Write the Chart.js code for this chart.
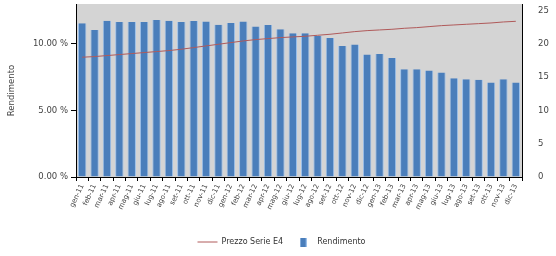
<!DOCTYPE html>
<html><head><meta charset="utf-8">
<script src="https://cdn.jsdelivr.net/npm/chart.js@4/dist/chart.umd.min.js"></script>
<style>html,body{margin:0;padding:0;background:#fff}#wrap{width:556px;height:256px}</style>
</head><body><div id="wrap"><canvas id="c" width="556" height="256"></canvas></div>
<script>
const categories = ["gen-11","feb-11","mar-11","apr-11","mag-11","giu-11","lug-11","ago-11","set-11","ott-11","nov-11","dic-11",
"gen-12","feb-12","mar-12","apr-12","mag-12","giu-12","lug-12","ago-12","set-12","ott-12","nov-12","dic-12",
"gen-13","feb-13","mar-13","apr-13","mag-13","giu-13","lug-13","ago-13","set-13","ott-13","nov-13","dic-13"];
const rendimento = [11.56,11.05,11.75,11.65,11.65,11.65,11.8,11.75,11.65,11.73,11.68,11.45,
11.58,11.68,11.3,11.42,11.1,10.8,10.8,10.6,10.45,9.85,9.95,9.2,
9.25,8.95,8.1,8.1,8.0,7.85,7.42,7.35,7.3,7.1,7.35,7.1];
const prezzo = [18.0,18.1,18.25,18.4,18.55,18.7,18.85,19.0,19.2,19.45,19.7,19.95,
20.2,20.45,20.65,20.8,20.95,21.05,21.15,21.3,21.45,21.65,21.85,22.0,
22.1,22.2,22.35,22.45,22.6,22.75,22.85,22.95,23.05,23.15,23.3,23.4];
const leftTicks = [0,5,10];
const rightTicks = [0,5,10,15,20,25];

const FONT = {family:"DejaVu Sans", size:8.5};
const bgPlugin = {id:'bg', beforeDraw(ch){const a=ch.chartArea,c=ch.ctx;c.save();c.fillStyle='#d4d4d4';c.fillRect(a.left,a.top,a.right-a.left,a.bottom-a.top);c.restore();}};

const boxImg = document.createElement('canvas');
boxImg.width = 7; boxImg.height = 9;
(function(){const g=boxImg.getContext('2d');g.fillStyle='#4a7ebb';g.fillRect(0,0,7,9);g.fillStyle='#9cc0ea';g.fillRect(0,0,1,9);g.fillRect(6,0,1,9);})();

function noVPad(s){s.paddingTop=0;s.paddingBottom=0;}

new Chart(document.getElementById('c'), {
  data:{labels:categories, datasets:[
    {type:'line', label:'Prezzo Serie E4', data:prezzo, yAxisID:'y1', borderColor:'#b05a5a', backgroundColor:'#c88a8a', borderWidth:1, pointRadius:0, pointStyle:'line', order:0, tension:0},
    {type:'bar', label:'Rendimento', data:rendimento, yAxisID:'y', backgroundColor:'#4a7ebb', borderColor:'#9cc0ea', borderWidth:{left:1,right:1,top:0,bottom:0}, barPercentage:0.68, categoryPercentage:1, pointStyle:boxImg, order:1}
  ]},
  options:{responsive:false, animation:false,
    layout:{padding:{top:4,left:7,right:0,bottom:0}, autoPadding:false},
    plugins:{legend:{position:'bottom', labels:{usePointStyle:true, pointStyleWidth:20, boxHeight:8, font:{family:"DejaVu Sans",size:8}, color:'#333', padding:10}}, tooltip:{enabled:false}},
    scales:{
      x:{offset:true, grid:{display:true, offset:true, drawOnChartArea:false, tickLength:4, color:'#000'}, border:{color:'#000'},
         ticks:{minRotation:65, maxRotation:65, autoSkip:false, font:{family:"DejaVu Sans",size:7}, color:'#444', padding:2},
         afterFit(s){s.height=51;s.paddingLeft=0;s.paddingRight=0;}},
      y:{position:'left', min:0, max:13, afterBuildTicks(s){s.ticks=leftTicks.map(v=>({value:v}));},
         ticks:{callback:v=>v.toFixed(2)+' %', font:FONT, color:'#444', padding:3},
         grid:{display:true, drawOnChartArea:false, tickLength:5, color:'#000'}, border:{color:'#000'},
         title:{display:true, text:'Rendimento', font:FONT, color:'#444', padding:{top:0,bottom:4}},
         afterFit(s){s.width=69;noVPad(s);}},
      y1:{position:'right', min:0, max:26, afterBuildTicks(s){s.ticks=rightTicks.map(v=>({value:v}));},
         ticks:{font:FONT, color:'#444', padding:8},
         grid:{display:false}, border:{color:'#000'},
         afterFit(s){s.width=34;noVPad(s);}}
    }
  },
  plugins:[bgPlugin]
});
</script></body></html>
